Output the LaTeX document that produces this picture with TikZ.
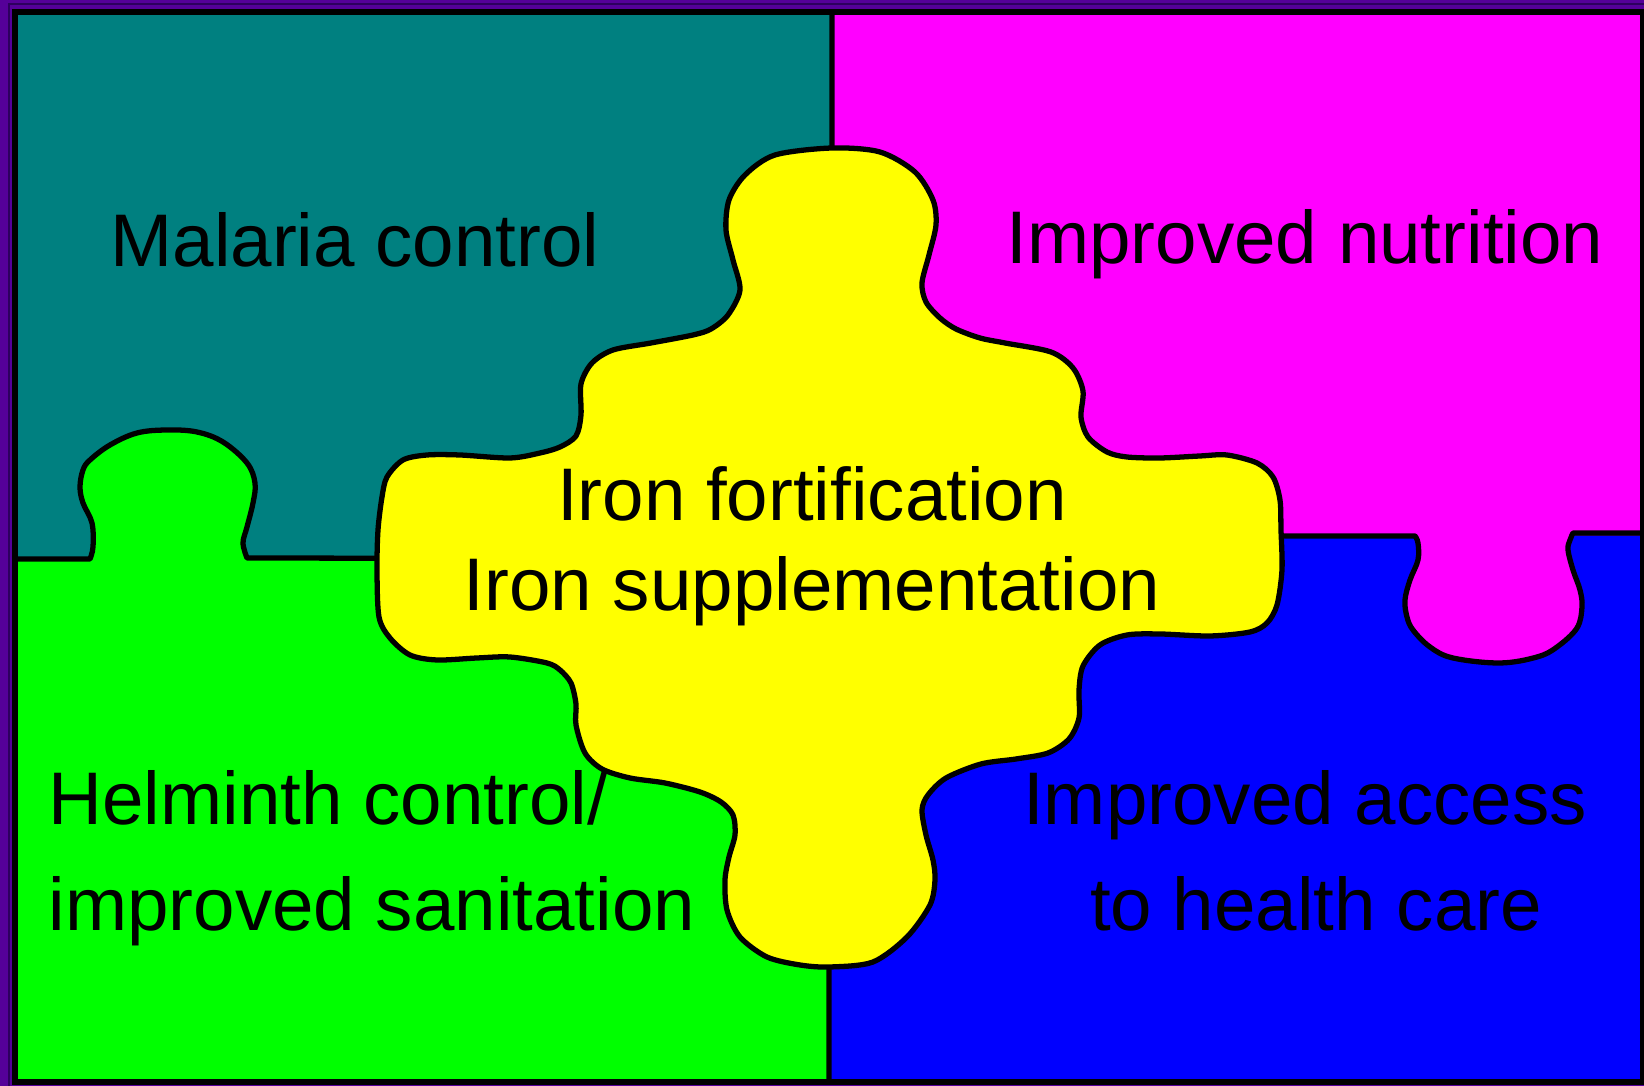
\documentclass[tikz,border=0pt]{standalone}
\usepackage{fontspec}
\setmainfont{Liberation Sans}
\usepackage{xcolor}
\definecolor{framepurple}{RGB}{85,0,153}
\definecolor{darkpurple}{RGB}{45,0,95}
\definecolor{malteal}{RGB}{0,128,128}
\definecolor{nutmagenta}{RGB}{255,0,255}
\definecolor{helgreen}{RGB}{0,255,0}
\definecolor{careblue}{RGB}{0,0,255}
\definecolor{ironyellow}{RGB}{255,255,0}
\usepackage{tikz}

\begin{document}
\begin{tikzpicture}[x=0.01cm, y=-0.01cm,
  piece/.style={draw=black, line width=1.5pt, line join=round},
  lbl/.style={font=\fontsize{21.2}{25}\selectfont, inner sep=0pt, anchor=base}
]
\useasboundingbox (0,0) rectangle (1644,1086);
\fill[framepurple] (0,0) rectangle (1644,1086);
\draw[darkpurple, line width=0.6pt] (9,4) rectangle (1660,1100);

% quadrants
\fill[malteal] (15,12) rectangle (832,558);
\fill[careblue] (829,536) rectangle (1643,1082);
\filldraw[piece, fill=helgreen] (15,1082) -- (15,559)
  -- plot[smooth, tension=0.6] coordinates {(90,559) (93,547) (92,523) (83,503) (80,487)
     (83,470) (90,460) (110,445) (137,433) (167,430) (197,432) (223,442) (247,463)
     (255,483) (253,503) (247,527) (243,543) (247,558)}
  -- (829,559) -- (829,1082) -- cycle;
\filldraw[piece, fill=nutmagenta] (832,12) -- (1643,12) -- (1643,533)
  -- plot[smooth, tension=0.6] coordinates {(1573,533) (1570,540) (1568,550) (1573,570)
     (1580,590) (1582,607) (1577,628) (1557,647) (1537,657) (1500,663) (1453,658)
     (1430,647) (1413,630) (1407,617) (1405,600) (1410,580) (1418,560) (1418,543) (1415,536)}
  -- (832,536) -- cycle;

% centre piece
\filldraw[piece, fill=ironyellow] plot[smooth cycle, tension=0.5] coordinates {
  (832,148) (880,152) (915,172) (933,200) (936,225) (929,255) (922,283) (926,302)
  (940,318) (956,329) (980,338) (1005,343) (1051,352) (1073,368) (1083,391) (1081,417)
  (1088,437) (1107,452) (1127,457) (1160,458) (1200,456) (1227,455) (1257,463) (1273,477)
  (1280,500) (1281,530) (1282,570) (1277,605) (1267,623) (1250,632) (1210,636) (1160,634)
  (1127,635) (1100,645) (1083,666) (1079,690) (1079,718) (1069,739) (1048,753) (1016,759)
  (981,764) (946,778) (928,795) (922,810) (926,835) (933,860) (935,880) (930,905)
  (907,937) (873,962) (830,967) (800,965) (767,957) (740,937) (727,910) (725,880)
  (729,857) (735,835) (733,815) (721,802) (700,792) (665,783) (630,778) (602,769)
  (585,753) (576,725) (576,704) (571,683) (560,670) (547,663) (510,657) (477,658)
  (437,660) (410,655) (390,638) (379,617) (377,570) (378,530) (382,497) (387,477)
  (403,460) (427,455) (460,455) (510,458) (540,453) (560,447) (576,436) (581,415)
  (581,384) (592,363) (613,350) (651,343) (693,335) (711,329) (728,315) (740,290)
  (733,260) (726,230) (729,200) (745,175) (775,155)};

\draw[line width=1.7pt] (15,12) rectangle (1643,1082);

\node[lbl] (malaria) at (355,267) {Malaria control};
\node[lbl] (nutrition) at (1305,264) {Improved nutrition};
\node[lbl] (iron1) at (812,521) {Iron fortification};
\node[lbl] (iron2) at (812,611) {Iron supplementation};
\node[lbl, anchor=base west] (helminth1) at (48,825) {Helminth control/};
\node[lbl, anchor=base west] (helminth2) at (48,931) {improved sanitation};
\node[lbl] (access1) at (1305,825) {Improved access};
\node[lbl] (access2) at (1316,931) {to health care};
\end{tikzpicture}
\end{document}
